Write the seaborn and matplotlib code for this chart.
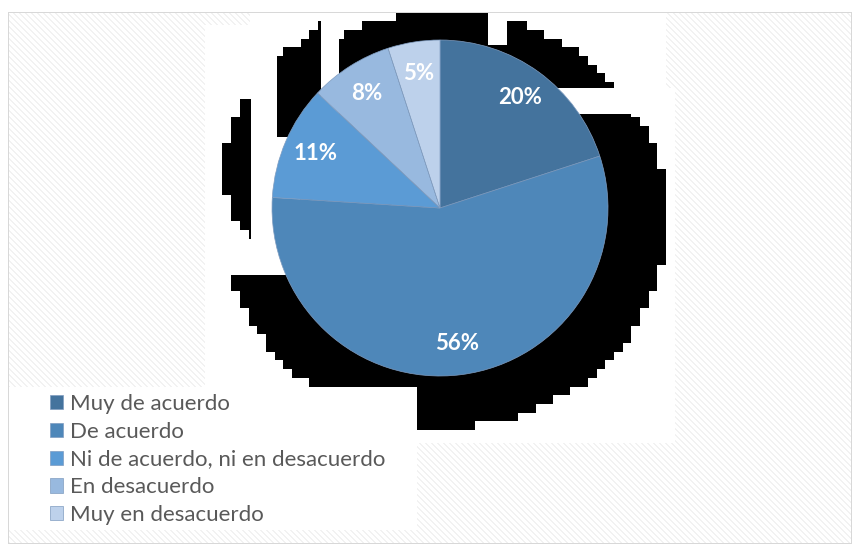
import numpy as np
import matplotlib
matplotlib.use("Agg")
import matplotlib.pyplot as plt
import seaborn as sns

# Survey answers and their shares (percent)
categories = [
    "Muy de acuerdo",
    "De acuerdo",
    "Ni de acuerdo, ni en desacuerdo",
    "En desacuerdo",
    "Muy en desacuerdo",
]
shares = [20, 56, 11, 8, 5]
slice_colors = ["#44739D", "#4E87B9", "#5B9BD5", "#98B9DF", "#BDD1EB"]

W, H = 858, 547
sns.set_theme(style="white")
plt.rcParams["font.family"] = ["Lato", "DejaVu Sans"]

# ---- background canvas: hatched chart area, white panels, blocky shadow ----
yy, xx = np.mgrid[0:H, 0:W]
img = np.ones((H, W, 3))

chart = (xx >= 8) & (xx <= 851) & (yy >= 12) & (yy <= 543)
hatch = ((xx - yy) % 6) < 2
img[chart & hatch] = 0.95

plot_panel = (((xx >= 205) & (xx < 675) & (yy >= 88) & (yy < 443))
              | ((xx >= 205) & (xx < 666) & (yy >= 25) & (yy < 88))
              | ((xx >= 250) & (xx < 666) & (yy >= 12) & (yy < 25)))
legend_panel = (xx >= 9) & (xx < 417) & (yy >= 387) & (yy < 530)
img[plot_panel | legend_panel] = 1.0

# shadow made of coarse square blocks
s = 8.7
bx = 222 + (np.floor((xx - 222) / s) + 0.5) * s
by = 12 + (np.floor((yy - 12) / s) + 0.5) * s
main = ((bx - 444.5) / 222.5) ** 2 + ((by - 219.5) / 208.0) ** 2 <= 1
raised = ((bx - 444.5) / 222.5) ** 2 + ((by - 198.0) / 208.0) ** 2 <= 1
strip = ((bx - 262) / 38.0) ** 2 + ((by - 168) / 75.0) ** 2 <= 1
left = xx < 251
upper_left = (xx >= 277) & (xx < 321) & (yy < 137)
shadow = (main & ~(left & (yy < 275)) & ~upper_left) \
    | (strip & left & (yy < 275)) | (raised & upper_left)
cuts = (((xx >= 251) & (xx < 277) & (yy < 275))
        | ((xx >= 277) & (xx < 300) & (yy >= 137) & (yy < 275))
        | ((xx >= 321) & (xx < 339) & (yy < 120))
        | ((xx >= 488) & (xx < 507) & (yy < 45))
        | ((xx >= 557) & (yy >= 88) & (yy < 114))
        | ((xx < 417) & (yy >= 387)))
shadow &= ~cuts & plot_panel
img[shadow] = 0.0

# chart border
border = 0.85
img[12, 8:852] = border
img[543, 8:852] = border
img[12:544, 8] = border
img[12:544, 851] = border

fig = plt.figure(figsize=(W / 100, H / 100), dpi=100, facecolor="white")
fig.figimage(img, xo=0, yo=0, origin="upper", zorder=-1)

# ---- pie ----
cx, cy, r = 440, 208, 168
ax = fig.add_axes([(cx - r) / W, (H - cy - r) / H, 2 * r / W, 2 * r / H])
ax.patch.set_visible(False)
wedges, _, autotexts = ax.pie(
    shares,
    colors=slice_colors,
    startangle=90,
    counterclock=False,
    radius=1,
    autopct="%.0f%%",
    pctdistance=0.81,
    wedgeprops=dict(edgecolor="#7f9cc0", linewidth=0.5),
    textprops=dict(color="white", fontsize=16, fontweight="bold"),
)
ax.set_xlim(-1, 1)
ax.set_ylim(-1, 1)

# ---- legend ----
fig.legend(
    wedges,
    categories,
    loc="upper left",
    bbox_to_anchor=(50 / W, 1 - 394 / H),
    frameon=False,
    fontsize=16,
    labelcolor="#595959",
    handlelength=0.6,
    handleheight=0.6,
    handletextpad=0.3,
    labelspacing=0.35,
    borderpad=0,
    borderaxespad=0,
)

fig.savefig("out.png", dpi=100, facecolor="white")
